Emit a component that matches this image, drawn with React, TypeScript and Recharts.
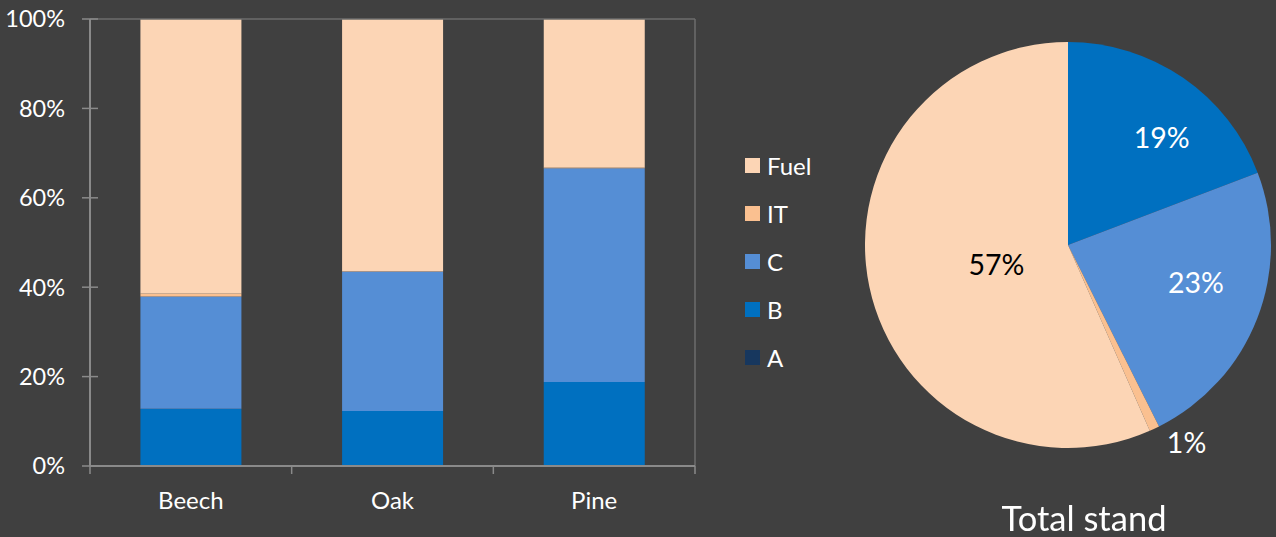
import { BarChart, Bar, XAxis, YAxis, Legend, ReferenceLine, PieChart, Pie, Cell } from "recharts"

// bar chart: share of each grade per species (%)
const species = ["Beech", "Oak", "Pine"]
const gradeA = [0, 0, 0]
const gradeB = [12.8, 12.3, 18.8]
const gradeC = [25.1, 31.2, 47.8]
const gradeIT = [0.7, 0.1, 0.2]
const gradeFuel = [61.4, 56.4, 33.2]
const yTicks = [0, 20, 40, 60, 80, 100]

// pie: total stand (%)
const standNames = ["A", "B", "C", "IT", "Fuel"]
const standValues = [0, 19.2, 23.4, 0.8, 56.6]

const BG = "#404040"
const AXIS = "#8a8a8a"
const BORDER = "#6c6c6c"
const FONT = "Lato, 'Open Sans', sans-serif"

const series = [
  { name: "A", values: gradeA, color: "#17375E" },
  { name: "B", values: gradeB, color: "#0070C0" },
  { name: "C", values: gradeC, color: "#558ED5" },
  { name: "IT", values: gradeIT, color: "#FAC090" },
  { name: "Fuel", values: gradeFuel, color: "#FCD5B5" },
]
const colorOf: Record<string, string> = Object.fromEntries(series.map((s) => [s.name, s.color]))

const barData = species.map((name, i) => {
  const row: Record<string, string | number> = { name, pos: i + 0.5 }
  series.forEach((s) => (row[s.name] = s.values[i]))
  return row
})

const pieData = standNames.map((name, i) => ({ name, value: standValues[i] }))

const CHART_H = 537
const MARGIN = { top: 19, right: 145, left: 0, bottom: 11 }
const X_AXIS_H = 60
const Y_AXIS_W = 90
const AXIS_Y = CHART_H - MARGIN.bottom - X_AXIS_H
const AXIS_X = MARGIN.left + Y_AXIS_W

const YTick = (props: any) => {
  const { y, payload } = props
  return (
    <g>
      <line x1={AXIS_X - 8} x2={AXIS_X + 8} y1={y} y2={y} stroke={AXIS} strokeWidth={1.5} />
      <text x={AXIS_X - 25} y={y} dy="0.36em" textAnchor="end" fill="#fff" fontSize={23.5} fontFamily={FONT}>
        {payload.value}%
      </text>
    </g>
  )
}

const XTick = (props: any) => {
  const { x, payload } = props
  const v = payload.value as number
  if (Number.isInteger(v)) {
    return <line x1={x} x2={x} y1={AXIS_Y} y2={AXIS_Y + 8} stroke={AXIS} strokeWidth={1.5} />
  }
  return (
    <text x={x} y={AXIS_Y + 34} dy="0.36em" textAnchor="middle" fill="#fff" fontSize={24} fontFamily={FONT}>
      {species[Math.floor(v)]}
    </text>
  )
}

const LegendContent = () => (
  <div style={{ fontFamily: FONT }}>
    {[...series].reverse().map((s) => (
      <div key={s.name} style={{ display: "flex", alignItems: "center", height: 48 }}>
        <span style={{ width: 15, height: 15, background: s.color, marginRight: 7, display: "inline-block" }} />
        <span style={{ color: "#fff", fontSize: 24 }}>{s.name}</span>
      </div>
    ))}
  </div>
)

const RAD = Math.PI / 180
const labelRadius: Record<string, number> = { B: 0.7, C: 0.66, IT: 1.14, Fuel: 0.36 }
const labelNudge: Record<string, [number, number]> = { IT: [20, -12], B: [13, 9], C: [3, -12], Fuel: [0, 4] }
const labelColor: Record<string, string> = { Fuel: "#000" }

const renderPieLabel = (p: any) => {
  if (!p.value) return null
  const name = p.name ?? p.payload?.name
  const r = p.outerRadius * (labelRadius[name] ?? 0.6)
  const [dx, dy] = labelNudge[name] ?? [0, 0]
  const x = p.cx + r * Math.cos(-p.midAngle * RAD) + dx
  const y = p.cy + r * Math.sin(-p.midAngle * RAD) + dy
  return (
    <text x={x} y={y} textAnchor="middle" dominantBaseline="central" fill={labelColor[name] ?? "#fff"} fontSize={28.5} fontFamily={FONT}>
      {Math.round(p.percent * 100)}%
    </text>
  )
}

export default function App() {
  return (
    <div style={{ position: "fixed", left: 0, top: 0, width: 1276, height: 537, background: BG, fontFamily: FONT }}>
      <div style={{ position: "absolute", left: 0, top: 0 }}>
        <BarChart width={840} height={CHART_H} data={barData} margin={MARGIN} barCategoryGap="25%">
          <XAxis xAxisId="cat" dataKey="name" hide height={0} />
          <XAxis
            xAxisId="num"
            dataKey="pos"
            type="number"
            domain={[0, 3]}
            ticks={[0, 0.5, 1, 1.5, 2, 2.5, 3]}
            interval={0}
            height={X_AXIS_H}
            tickLine={false}
            axisLine={{ stroke: AXIS, strokeWidth: 2 }}
            tick={<XTick />}
          />
          <YAxis
            domain={[0, 100]}
            ticks={yTicks}
            width={Y_AXIS_W}
            tickLine={false}
            axisLine={{ stroke: AXIS, strokeWidth: 2 }}
            tick={<YTick />}
          />
          <ReferenceLine y={100} xAxisId="num" stroke={BORDER} strokeWidth={1.5} />
          <ReferenceLine x={3} xAxisId="num" stroke={BORDER} strokeWidth={1.5} />
          {series.map((s) => (
            <Bar key={s.name} xAxisId="cat" dataKey={s.name} stackId="g" fill={s.color} isAnimationActive={false} />
          ))}
          <Legend
            layout="vertical"
            align="center"
            verticalAlign="middle"
            content={<LegendContent />}
            wrapperStyle={{ left: 745, top: 141, width: 100 }}
          />
        </BarChart>
      </div>
      <div style={{ position: "absolute", left: 840, top: 0 }}>
        <PieChart width={436} height={CHART_H} margin={{ top: 0, right: 0, bottom: 0, left: 0 }}>
          <Pie
            data={pieData}
            dataKey="value"
            nameKey="name"
            cx={228}
            cy={245}
            outerRadius={203}
            startAngle={90}
            endAngle={-270}
            stroke="none"
            label={renderPieLabel}
            labelLine={false}
            isAnimationActive={false}
          >
            {pieData.map((d) => (
              <Cell key={d.name} fill={colorOf[d.name]} />
            ))}
          </Pie>
        </PieChart>
      </div>
      <div
        style={{
          position: "absolute",
          left: 984,
          width: 200,
          top: 497,
          textAlign: "center",
          color: "#fff",
          fontSize: 34.5,
          lineHeight: "42px",
        }}
      >
        Total stand
      </div>
    </div>
  )
}
